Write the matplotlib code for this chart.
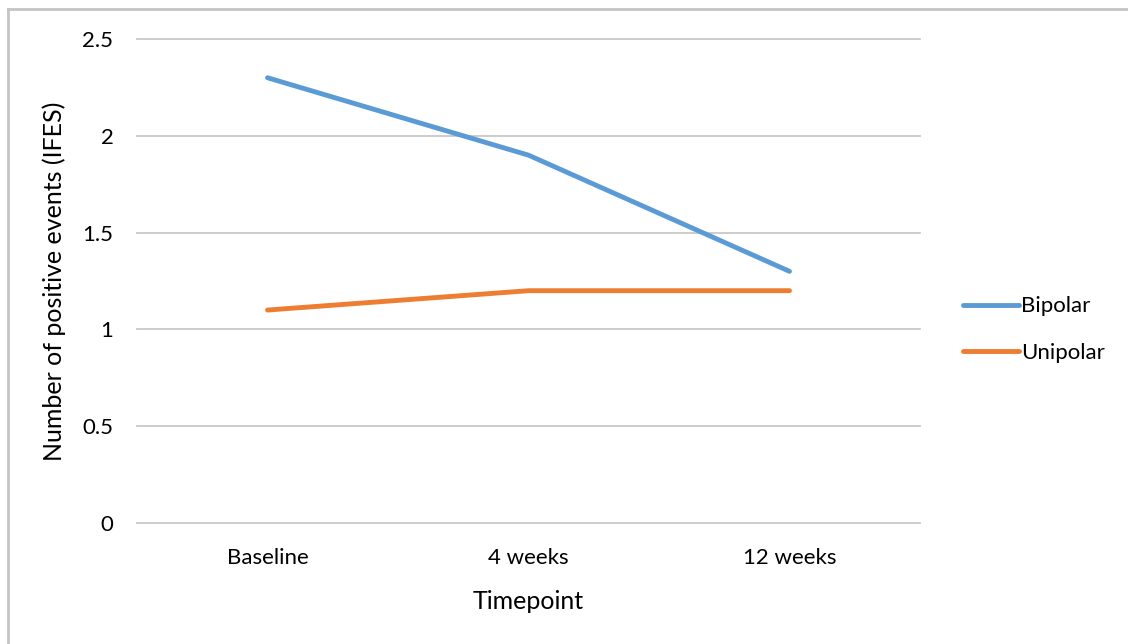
import matplotlib
matplotlib.use("Agg")
import matplotlib.pyplot as plt
from matplotlib.lines import Line2D

timepoints = ["Baseline", "4 weeks", "12 weeks"]
bipolar = [2.3, 1.9, 1.3]
unipolar = [1.1, 1.2, 1.2]
y_ticks = [0, 0.5, 1, 1.5, 2, 2.5]
y_tick_labels = ["0", "0.5", "1", "1.5", "2", "2.5"]

plt.rcParams["font.family"] = ["Lato", "DejaVu Sans"]

fig = plt.figure(figsize=(11.28, 6.44), dpi=100)
ax = fig.add_axes([0.1215, 0.1879, 0.6941, 0.7515])

x = list(range(len(timepoints)))
ax.plot(x, bipolar, color="#5b9bd5", linewidth=3.5, solid_capstyle="round", label="Bipolar")
ax.plot(x, unipolar, color="#ed7d31", linewidth=3.5, solid_capstyle="round", label="Unipolar")

ax.set_xlim(-0.5, 2.5)
ax.set_ylim(0, 2.5)
ax.set_yticks(y_ticks)
ax.set_yticklabels(y_tick_labels)
ax.set_xticks(x)
ax.set_xticklabels(timepoints)
ax.tick_params(axis="both", length=0, labelsize=16, colors="#000000")
ax.tick_params(axis="y", pad=17)
ax.tick_params(axis="x", pad=18)
ax.grid(axis="y", color="#c8c8c8", linewidth=1.3)
ax.set_axisbelow(True)
for spine in ax.spines.values():
    spine.set_visible(False)
for line in ax.get_ygridlines():
    line.set_clip_on(False)

ax.set_xlabel("Timepoint", fontsize=18, labelpad=16)
ax.set_ylabel("Number of positive events (IFES)", fontsize=18, labelpad=12)

fig.legend(loc="center left", bbox_to_anchor=(0.836, 0.488), frameon=False,
           fontsize=16, handlelength=2.5, handletextpad=0.1, labelspacing=1.2)

# chart border (left and top only visible)
fig.add_artist(Line2D([0.0071, 0.0071], [0, 0.986], transform=fig.transFigure,
                      color="#c4c4c4", linewidth=2))
fig.add_artist(Line2D([0.0071, 1.0], [0.986, 0.986], transform=fig.transFigure,
                      color="#c4c4c4", linewidth=2))

fig.savefig("out.png", dpi=100)
